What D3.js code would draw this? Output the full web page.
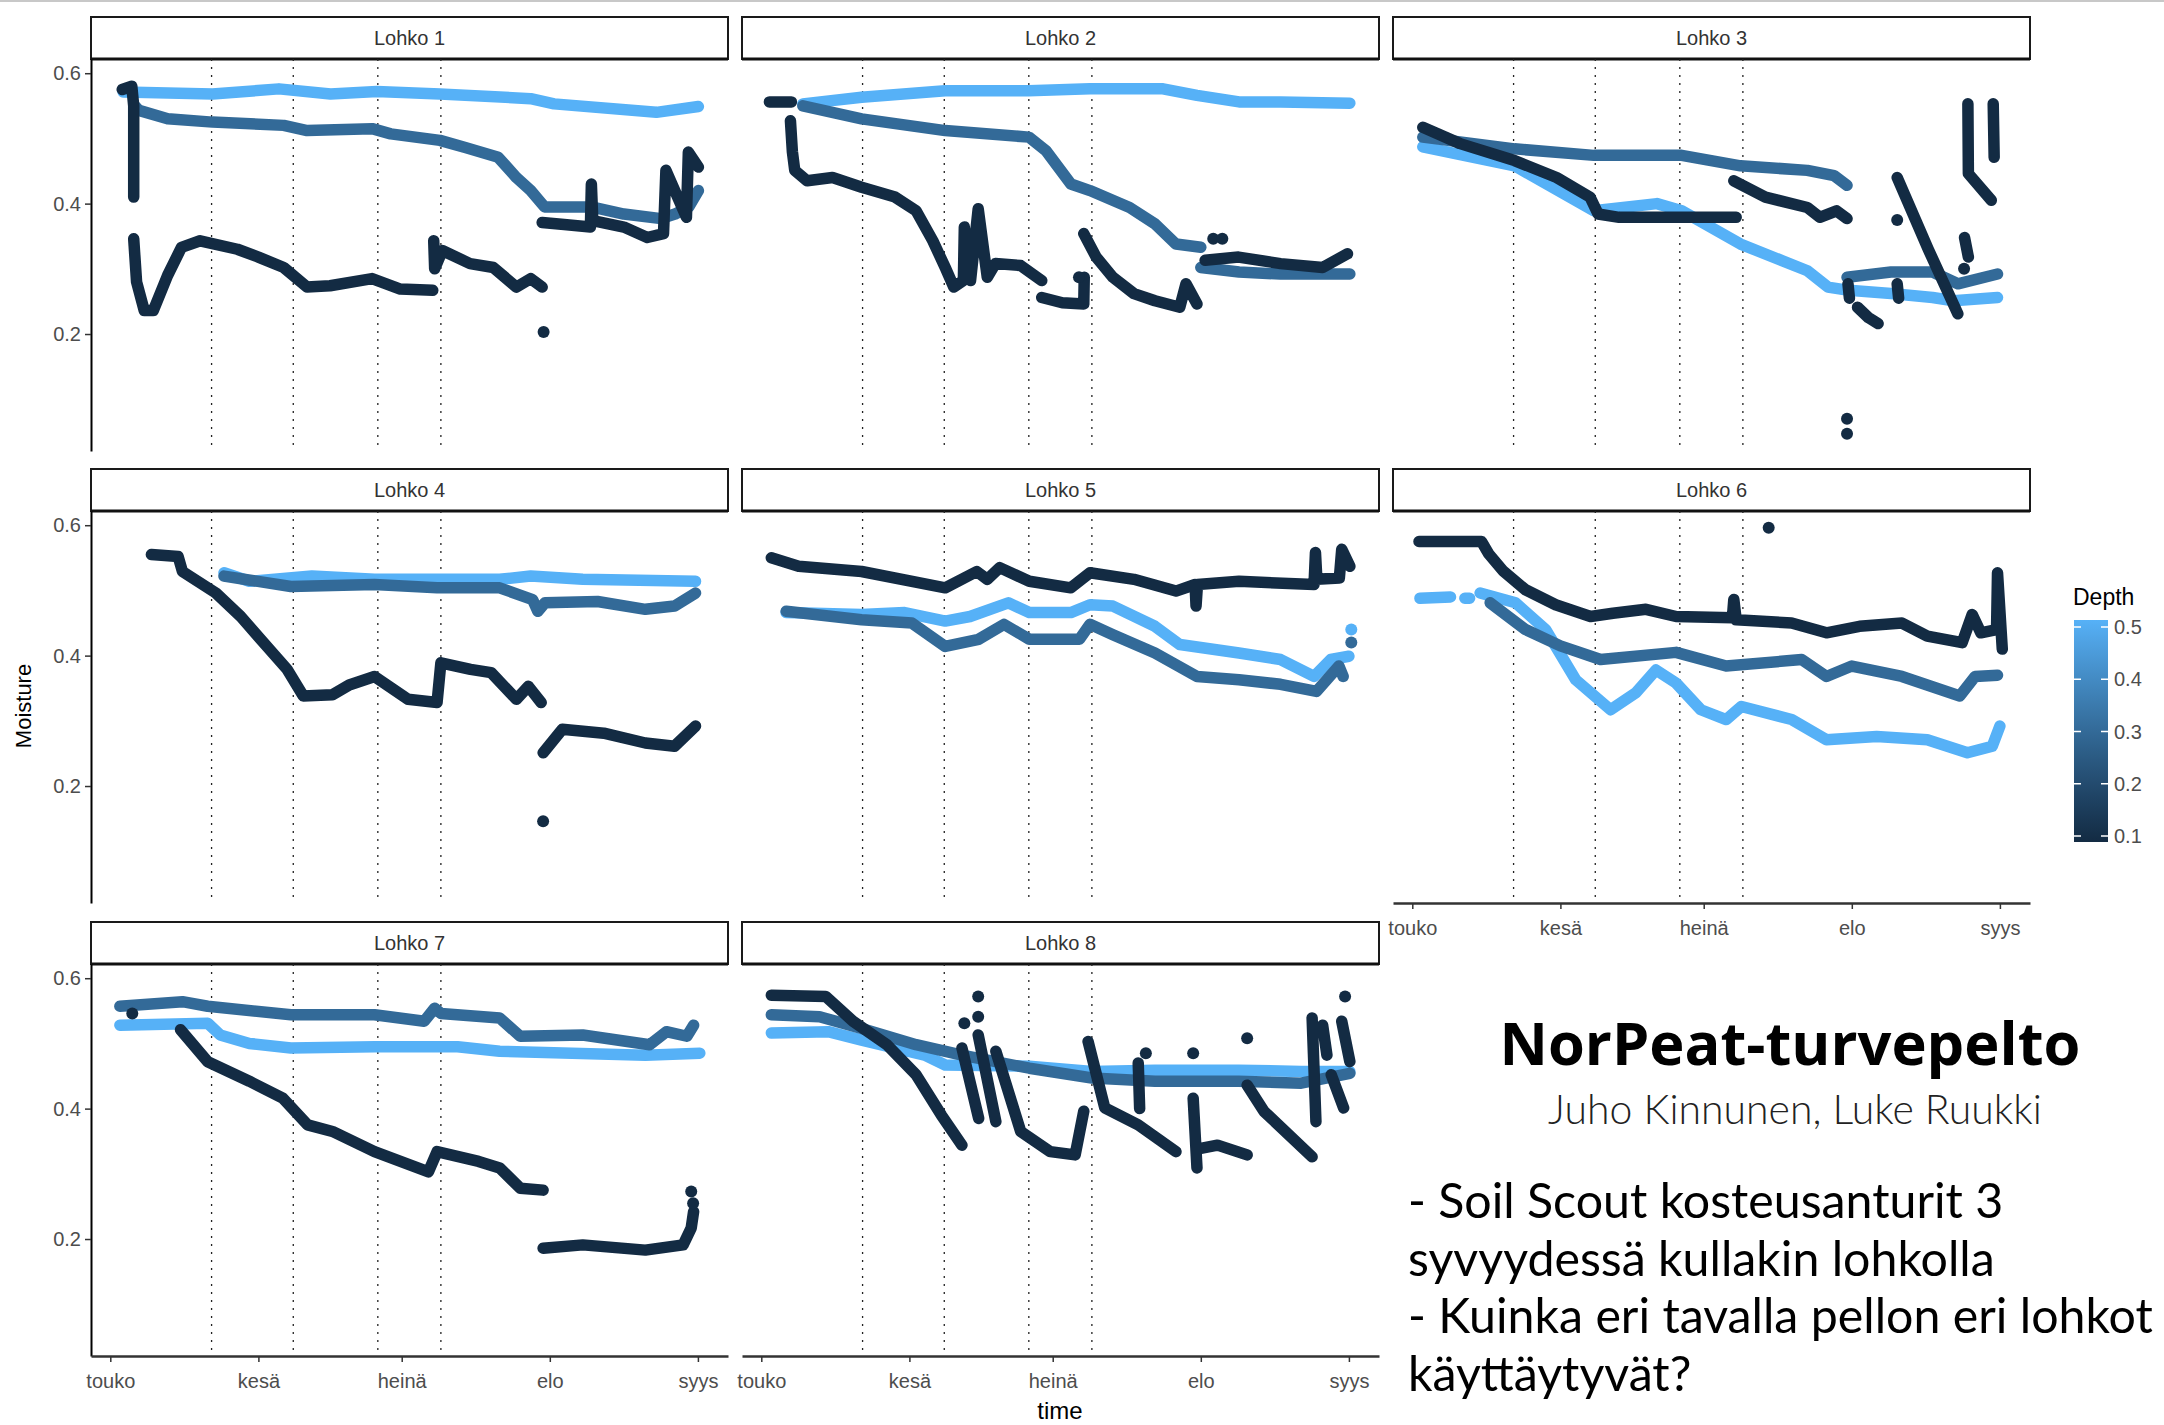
<!DOCTYPE html>
<html>
<head>
<meta charset="utf-8">
<script src="https://cdn.jsdelivr.net/npm/d3@7"></script>
<style>
  body { margin: 0; background: #fff; }
  svg { display: block; }
</style>
</head>
<body>
<svg id="chart" width="2164" height="1425"></svg>
<script>
// ---- data: [day since 1 May, moisture], null breaks a run ----
const months = ["touko", "kesä", "heinä", "elo", "syys"];
const monthDays = [0, 31, 61, 92, 123];
const markDays = [21.2, 38.3, 56, 69.2];
const panelNames = ["Lohko 1", "Lohko 2", "Lohko 3", "Lohko 4", "Lohko 5", "Lohko 6", "Lohko 7", "Lohko 8"];
const depths = [0.5, 0.3, 0.1];
const depthBreaks = [0.1, 0.2, 0.3, 0.4, 0.5];

const l1_05 = [[2.7,0.571],[21.4,0.568],[35.3,0.576],[46.1,0.568],[55.8,0.572],[69,0.568],[88,0.561],[92.9,0.553],[114.3,0.54],[123.1,0.549]];
const l1_03 = [[5.1,0.55],[6,0.543],[12,0.53],[21.4,0.525],[36.3,0.52],[41.2,0.512],[54.8,0.515],[58.7,0.507],[69,0.497],[74.3,0.486],[81.2,0.471],[85,0.44],[88,0.42],[90.9,0.395],[100.7,0.395],[107.5,0.384],[115.3,0.377],[118.2,0.384],[121.1,0.395],[123.1,0.42]];
const l1_01 = [[2.5,0.575],[4.5,0.58],[4.9,0.55],[4.9,0.41],null,[4.9,0.346],[5.5,0.28],[7.1,0.236],[9,0.236],[12,0.29],[14.9,0.333],[18.8,0.343],[26.6,0.33],[31,0.318],[36.3,0.302],[41.2,0.272],[46,0.274],[54.8,0.285],[60.7,0.269],[67.5,0.267],null,[67.7,0.343],[67.9,0.30],[69.5,0.328],[75.3,0.308],[80.2,0.302],[85,0.272],[88,0.285],[90.4,0.272],null,[90.4,0.371],[95,0.368],[100.5,0.364],[100.7,0.43],[101,0.374],[107.5,0.364],[112.4,0.348],[115.8,0.354],[116.3,0.451],[120.6,0.379],[121,0.479],[123.1,0.456]];
const l1_dots = [[90.7,0.203,0.1]];

const l2_05 = [[8.7,0.553],[21,0.563],[38.5,0.573],[56,0.573],[68.8,0.576],[84.1,0.576],[91.2,0.566],[100,0.556],[108.7,0.556],[123.2,0.554]];
const l2_03 = [[8.7,0.55],[21,0.53],[38.5,0.512],[56,0.502],[59.6,0.481],[64.8,0.43],[68.8,0.42],[77.1,0.394],[82.4,0.369],[86.8,0.338],[92,0.333],null,[92,0.302],[100,0.295],[108.7,0.292],[123.2,0.292]];
const l2_01 = [[1.7,0.556],[6.3,0.556],null,[6.1,0.527],[6.5,0.48],[7,0.451],[9.6,0.435],[14.9,0.44],[21,0.425],[28,0.41],[32.4,0.389],[35.9,0.343],[38.5,0.302],[40.3,0.272],[42.3,0.282],[42.5,0.364],[43.8,0.282],[45.4,0.392],[47.3,0.287],[49,0.308],[54.3,0.305],[58.7,0.282],null,[58.7,0.256],[63,0.248],[67.5,0.246],[67.6,0.287],null,[67.5,0.354],[70.1,0.318],[73.6,0.287],[78,0.262],[82.4,0.251],[87.6,0.241],[88.9,0.277],[91.2,0.246],null,[92.9,0.313],[99.9,0.318],[108.7,0.308],[117.5,0.302],[122.7,0.323]];
const l2_dots = [[94.6,0.346,0.1],[96.5,0.346,0.1],[66.5,0.287,0.1]];

const l3_05 = [[2.2,0.487],[21.4,0.458],[38,0.389],[51.2,0.40],[56.4,0.389],[68.7,0.338],[82.7,0.297],[87,0.272],[91.4,0.267],[100.2,0.262],[108.9,0.256],[113.3,0.251],[122.5,0.256]];
const l3_03 = [[2.2,0.502],[21.4,0.484],[38,0.474],[56.4,0.474],[68.7,0.458],[82.7,0.451],[88.3,0.443],[91,0.428],null,[91,0.287],[100.2,0.295],[108.9,0.295],[114.2,0.277],[122.5,0.292]];
const l3_01 = [[2.2,0.517],[10,0.492],[21.4,0.466],[30.2,0.44],[37.2,0.41],[38.9,0.384],[43.3,0.379],[56.4,0.379],[67.8,0.379],null,[67.3,0.435],[73.9,0.41],[82.7,0.394],[85.3,0.379],[88.8,0.389],[91,0.377],null,[91.2,0.277],[91.5,0.255],null,[93.2,0.241],[95.5,0.225],[97.5,0.216],null,[101.5,0.277],[101.8,0.255],null,[101.5,0.44],[108,0.33],[114.2,0.231],null,[115.6,0.348],[116.4,0.318],null,[116.3,0.553],[116.4,0.446],[121.2,0.405],null,[121.6,0.553],[121.8,0.471]];
const l3_dots = [[91,0.07,0.1],[91,0.047,0.1],[101.5,0.375,0.1],[115.5,0.3,0.1]];

const l4_05 = [[23.8,0.527],[29.1,0.514],[42.2,0.522],[55.3,0.517],[68.4,0.517],[81.5,0.517],[88,0.522],[98.9,0.517],[122.5,0.514]];
const l4_03 = [[23.8,0.522],[37.8,0.506],[55.3,0.509],[68.4,0.504],[81.5,0.504],[88.4,0.486],[89.5,0.468],[91,0.481],[102,0.483],[112,0.471],[118.1,0.476],[122.5,0.496]];
const l4_01 = [[8.6,0.555],[14.2,0.552],[15.1,0.529],[22.1,0.496],[27.3,0.46],[33.4,0.409],[37,0.379],[40.4,0.338],[46.5,0.34],[50,0.355],[55.3,0.368],[62.3,0.333],[68.4,0.328],[69.2,0.389],[75.4,0.379],[79.7,0.374],[85,0.333],[87.5,0.353],[90.2,0.328],null,[90.6,0.251],[94.6,0.287],[103.3,0.281],[112,0.266],[118.1,0.261],[122.5,0.292]];
const l4_dots = [[90.6,0.146,0.1]];

const l5_05 = [[5.2,0.466],[21,0.463],[30,0.466],[38.5,0.453],[43.7,0.46],[51.7,0.481],[56.1,0.466],[64.8,0.466],[68.8,0.478],[73.6,0.476],[82.4,0.445],[87.6,0.417],[100,0.404],[108.7,0.394],[115.7,0.368],[119.2,0.394],[123,0.399]];
const l5_03 = [[5.2,0.468],[21,0.455],[31.5,0.45],[38.5,0.414],[45.5,0.425],[50.8,0.448],[56.1,0.425],[66.6,0.425],[68.8,0.448],[73.6,0.432],[82.4,0.404],[91.2,0.368],[100,0.363],[108.7,0.356],[116.2,0.345],[120.9,0.384],[121.8,0.368]];
const l5_01 = [[2.1,0.55],[7.8,0.537],[21,0.529],[38.5,0.504],[45.1,0.529],[47.3,0.517],[49.9,0.535],[56.1,0.514],[64.8,0.504],[68.8,0.527],[78,0.517],[86.8,0.499],[90.8,0.509],[91,0.476],[91.3,0.509],[100,0.514],[115.7,0.509],[116,0.558],[116.3,0.517],[121,0.519],[121.5,0.563],[123.2,0.537]];
const l5_dots = [[123.5,0.44,0.5],[123.5,0.42,0.3]];

const l6_05 = [[1.6,0.488],[8,0.49],null,[11,0.488],[12,0.488],null,[14.2,0.496],[21.6,0.481],[27.9,0.44],[34.2,0.363],[41.5,0.317],[46.8,0.343],[51,0.378],[55.2,0.358],[60.4,0.317],[65.7,0.302],[68.9,0.322],[79.4,0.302],[86.7,0.271],[97.2,0.276],[107.8,0.271],[116.2,0.251],[121.4,0.261],[123,0.292]];
const l6_03 = [[16.3,0.481],[23.7,0.44],[31,0.415],[39.4,0.394],[55.2,0.405],[65.7,0.384],[81.5,0.394],[86.7,0.368],[92,0.384],[102.5,0.368],[114.6,0.338],[117.8,0.368],[122.5,0.37]];
const l6_01 = [[1.4,0.575],[14.5,0.575],[16,0.556],[19,0.53],[23.7,0.501],[30,0.478],[37.3,0.46],[42,0.465],[48.9,0.471],[55.2,0.46],[67,0.458],[67.3,0.486],[67.8,0.455],[79.4,0.45],[86.7,0.435],[93.6,0.445],[102.5,0.45],[107.8,0.43],[115.1,0.42],[117.2,0.463],[119,0.435],[122.3,0.44],[122.5,0.527],[123.5,0.41]];
const l6_dots = [[74.6,0.596,0.1]];

const l7_05 = [[2,0.528],[20.4,0.531],[23,0.513],[29.1,0.5],[37.8,0.493],[55.3,0.495],[72.7,0.495],[81.5,0.488],[112,0.482],[123.4,0.485]];
const l7_03 = [[2,0.557],[15.1,0.564],[20.4,0.557],[37.8,0.544],[55.3,0.544],[65.7,0.534],[67.9,0.554],[69.2,0.546],[81.5,0.539],[85.8,0.511],[98.9,0.513],[112.9,0.498],[116.4,0.518],[120.7,0.511],[122.1,0.528]];
const l7_01 = [[14.7,0.521],[20.4,0.472],[29.1,0.442],[36.1,0.416],[41.3,0.375],[46.5,0.365],[55.3,0.334],[66.6,0.303],[68.4,0.334],[77.1,0.319],[81.5,0.309],[85.8,0.278],[90.6,0.275],null,[90.6,0.186],[98.9,0.191],[112,0.183],[119.9,0.191],[121.6,0.217],[122.1,0.242]];
const l7_dots = [[4.6,0.546,0.1],[121.6,0.273,0.1],[122,0.255,0.1]];

const l8_05 = [[2.1,0.516],[14,0.518],[21,0.505],[34.2,0.482],[38.5,0.467],[56.1,0.465],[69.2,0.457],[82.4,0.459],[99.9,0.459],[113,0.457],[123.2,0.457]];
const l8_03 = [[2.1,0.544],[12.2,0.541],[21,0.523],[32.4,0.498],[42,0.482],[56.1,0.462],[69.2,0.447],[82.4,0.442],[99.9,0.442],[113,0.439],[123.2,0.454]];
const l8_01 = [[2.1,0.574],[13.5,0.572],[19.2,0.534],[26.3,0.498],[32.4,0.452],[37.7,0.39],[42,0.344],null,[42,0.493],[45.5,0.385],null,[45.4,0.513],[49.1,0.38],null,[49.1,0.488],[54.3,0.365],[60.5,0.334],[65.7,0.329],[67.5,0.396],null,[68.4,0.503],[71.9,0.401],[78.9,0.375],[86.8,0.334],null,[78.9,0.47],[79.2,0.4],null,[90.4,0.416],[91.2,0.309],null,[92,0.339],[95.5,0.344],[101.7,0.329],null,[101.7,0.436],[105.2,0.396],[115.3,0.326],null,[115.3,0.539],[116.1,0.38],null,[117.5,0.528],[118.4,0.482],null,[121.5,0.534],[123.2,0.472],null,[119.3,0.452],[121.9,0.401]];
const l8_dots = [[45.4,0.572,0.1],[45.4,0.541,0.1],[42.5,0.531,0.1],[122.2,0.572,0.1],[101.7,0.508,0.1],[80.5,0.485,0.1],[90.4,0.485,0.1]];

const panelLines = [
  [l1_05, l1_03, l1_01], [l2_05, l2_03, l2_01], [l3_05, l3_03, l3_01], [l4_05, l4_03, l4_01],
  [l5_05, l5_03, l5_01], [l6_05, l6_03, l6_01], [l7_05, l7_03, l7_01], [l8_05, l8_03, l8_01]
];
const panelDots = [l1_dots, l2_dots, l3_dots, l4_dots, l5_dots, l6_dots, l7_dots, l8_dots];

// ---- layout ----
const W = 2164, H = 1425;
const colLeft = [91, 742, 1393], panelW = 637;
const rowTop = [17, 469, 922], stripH = 42, plotH = 392;
const axisFont = "'Liberation Sans', Arial, sans-serif";

const svg = d3.select("#chart");
svg.append("rect").attr("width", W).attr("height", H).attr("fill", "#fff");
svg.append("line").attr("x1", 0).attr("x2", W).attr("y1", 1).attr("y2", 1)
  .attr("stroke", "#c8c8c8").attr("stroke-width", 2);

var x = d3.scaleLinear().domain([-4.04, 129.3]).range([0, panelW]);
var y = d3.scaleLinear().domain([0.0206, 0.6218]).range([plotH, 0]);
var color = d3.scaleSequential(d3.interpolateLab("#132B43", "#56B1F7")).domain([0.1, 0.5]);

var line = d3.line()
  .defined(d => d != null)
  .x(d => x(d[0]))
  .y(d => y(d[1]));

panelNames.forEach(function (name, i) {
  var col = i % 3, row = Math.floor(i / 3);
  var g = svg.append("g").attr("transform", `translate(${colLeft[col]},${rowTop[row]})`);

  // strip
  g.append("rect").attr("x", 0).attr("y", 0).attr("width", panelW).attr("height", stripH)
    .attr("fill", "#fff").attr("stroke", "#1a1a1a").attr("stroke-width", 2);
  g.append("line").attr("x1", 0).attr("x2", panelW).attr("y1", stripH).attr("y2", stripH)
    .attr("stroke", "#111").attr("stroke-width", 3);
  g.append("text").attr("x", panelW / 2).attr("y", stripH / 2).attr("dy", "0.36em")
    .attr("text-anchor", "middle").attr("font-family", axisFont).attr("font-size", 20)
    .attr("fill", "#333").text(name);

  var p = g.append("g").attr("transform", `translate(0,${stripH})`);

  // dotted reference lines
  p.selectAll(".vline").data(markDays).join("line")
    .attr("x1", d => x(d)).attr("x2", d => x(d)).attr("y1", 0).attr("y2", plotH)
    .attr("stroke", "#222").attr("stroke-width", 1.3).attr("stroke-dasharray", "2,6");

  // series, light (deep) first, dark (shallow) on top
  panelLines[i].forEach(function (pts, k) {
    p.append("path").datum(pts)
      .attr("d", line)
      .attr("fill", "none")
      .attr("stroke", color(depths[k]))
      .attr("stroke-width", 11.5)
      .attr("stroke-linecap", "round")
      .attr("stroke-linejoin", "round");
  });

  p.selectAll(".dot").data(panelDots[i]).join("circle")
    .attr("cx", d => x(d[0])).attr("cy", d => y(d[1])).attr("r", 6)
    .attr("fill", d => color(d[2]));

  // y axis on left column
  if (col === 0) {
    var ya = p.append("g").call(d3.axisLeft(y).tickValues([0.2, 0.4, 0.6])
      .tickFormat(d3.format(".1f")).tickSize(6).tickPadding(4).tickSizeOuter(0));
    ya.select(".domain").attr("stroke", "#000").attr("stroke-width", 2);
    ya.selectAll(".tick line").attr("stroke", "#333").attr("stroke-width", 1.5);
    ya.selectAll(".tick text").attr("font-family", axisFont).attr("font-size", 20).attr("fill", "#4d4d4d");
  }
  // x axis where no panel below
  if (row === 2 || i === 5) {
    var xa = p.append("g").attr("transform", `translate(0,${plotH})`)
      .call(d3.axisBottom(x).tickValues(monthDays).tickFormat((d, j) => months[j])
        .tickSize(6).tickPadding(12).tickSizeOuter(0));
    xa.select(".domain").attr("stroke", "#333").attr("stroke-width", 2.5);
    xa.selectAll(".tick line").attr("stroke", "#333").attr("stroke-width", 1.5);
    xa.selectAll(".tick text").attr("font-family", axisFont).attr("font-size", 20).attr("fill", "#4d4d4d");
  }
});

// axis titles
svg.append("text").attr("x", 1060).attr("y", 1419).attr("text-anchor", "middle")
  .attr("font-family", axisFont).attr("font-size", 24).attr("fill", "#000").text("time");
svg.append("text").attr("transform", "translate(31,706) rotate(-90)").attr("text-anchor", "middle")
  .attr("font-family", axisFont).attr("font-size", 22).attr("fill", "#000").text("Moisture");

// legend
var legendY = d3.scaleLinear().domain([0.1, 0.5]).range([836, 627]);
svg.append("text").attr("x", 2073).attr("y", 605).attr("font-family", axisFont)
  .attr("font-size", 23).attr("fill", "#000").text("Depth");
var grad = svg.append("defs").append("linearGradient").attr("id", "depthGrad")
  .attr("x1", 0).attr("x2", 0).attr("y1", 1).attr("y2", 0);
d3.range(0, 1.0001, 0.1).forEach(function (t) {
  grad.append("stop").attr("offset", t).attr("stop-color", color(0.1 + 0.4 * t));
});
svg.append("rect").attr("x", 2074).attr("y", 620).attr("width", 34).attr("height", 222)
  .attr("fill", "url(#depthGrad)");
depthBreaks.forEach(function (v) {
  var yy = legendY(v);
  svg.append("line").attr("x1", 2074).attr("x2", 2081).attr("y1", yy).attr("y2", yy)
    .attr("stroke", "#fff").attr("stroke-width", 1.5);
  svg.append("line").attr("x1", 2101).attr("x2", 2108).attr("y1", yy).attr("y2", yy)
    .attr("stroke", "#fff").attr("stroke-width", 1.5);
  svg.append("text").attr("x", 2114).attr("y", yy).attr("dy", "0.36em")
    .attr("font-family", axisFont).attr("font-size", 20).attr("fill", "#4d4d4d")
    .text(d3.format(".1f")(v));
});

// text block on the right
function fitWidth(sel, target) {
  var fs = +sel.attr("font-size");
  var w = sel.node().getComputedTextLength();
  if (w > 0) sel.attr("font-size", fs * target / w);
}

var title = svg.append("text").attr("x", 1790).attr("y", 1065).attr("text-anchor", "middle")
  .attr("font-family", "'Open Sans', sans-serif").attr("font-weight", 700)
  .attr("font-size", 56).attr("fill", "#000").text("NorPeat-turvepelto");
fitWidth(title, 581);

var author = svg.append("text").attr("x", 1795).attr("y", 1124).attr("text-anchor", "middle")
  .attr("font-family", "Lato, sans-serif").attr("font-weight", 300)
  .attr("font-size", 33).attr("fill", "#222").text("Juho Kinnunen, Luke Ruukki");
fitWidth(author, 494);

const bulletLines = ["- Soil Scout kosteusanturit 3", "syvyydessä kullakin lohkolla",
  "- Kuinka eri tavalla pellon eri lohkot", "käyttäytyvät?"];
var bullets = svg.append("g").attr("font-family", "Lato, sans-serif").attr("fill", "#000");
var bt = bullets.selectAll("text").data(bulletLines).join("text")
  .attr("x", 1408).attr("y", (d, i) => 1218 + i * 57.5)
  .attr("font-size", 44).text(d => d);
var ref = bt.filter((d, i) => i === 2);
var fs = 44 * 745 / ref.node().getComputedTextLength();
bt.attr("font-size", fs);
</script>
</body>
</html>
